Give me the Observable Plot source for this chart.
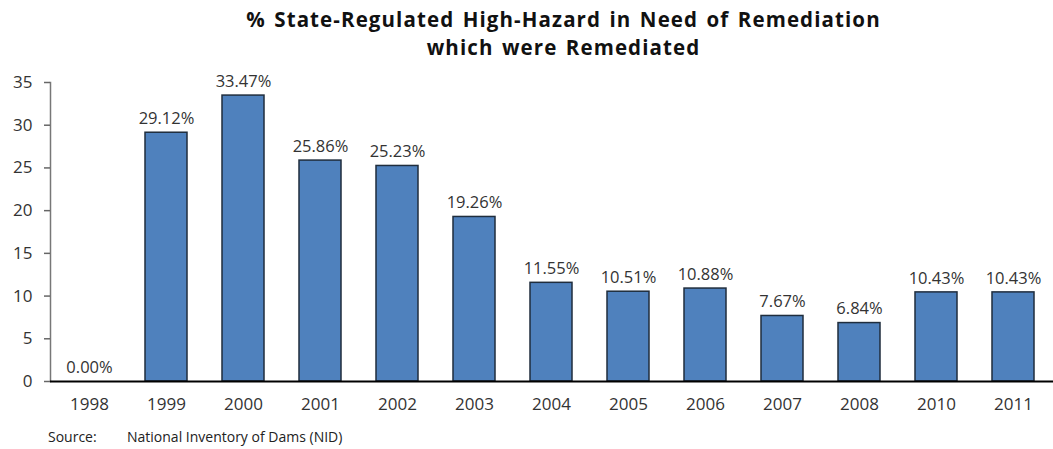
<!DOCTYPE html>
<html>
<head>
<meta charset="utf-8">
<script src="https://cdn.jsdelivr.net/npm/d3@7"></script>
<script src="https://cdn.jsdelivr.net/npm/@observablehq/plot@0.6"></script>
<style>
  html, body { margin: 0; padding: 0; background: #fff; }
  body { width: 1053px; height: 449px; overflow: hidden; font-family: "Open Sans", sans-serif; }
  #title { height: 62px; box-sizing: border-box; padding-top: 5px; padding-left: 74px; text-align: center;
           font-weight: bold; font-size: 20.5px; line-height: 28px; color: #111; letter-spacing: 1.1px; word-spacing: 2px; }
  #source { font-size: 14px; color: #222; padding-left: 48px; margin-top: 0px; }
  #source span { display: inline-block; width: 79px; }
</style>
</head>
<body>
<div id="title">% State-Regulated High-Hazard in Need of Remediation<br>which were Remediated</div>
<div id="chart"></div>
<div id="source"><span>Source:</span>National Inventory of Dams (NID)</div>
<script>
const years = ["1998","1999","2000","2001","2002","2003","2004","2005","2006","2007","2008","2010","2011"];
const values = [0.00, 29.12, 33.47, 25.86, 25.23, 19.26, 11.55, 10.51, 10.88, 7.67, 6.84, 10.43, 10.43];
const yTicks = [0, 5, 10, 15, 20, 25, 30, 35];

const data = years.map((y, i) => ({year: y, value: values[i], label: values[i].toFixed(2) + "%"}));

const chart = Plot.plot({
  width: 1053,
  height: 365,
  marginTop: 20,
  marginLeft: 50,
  marginRight: 0,
  marginBottom: 46,
  style: {fontFamily: "Open Sans, sans-serif", color: "#333", background: "#fff"},
  x: {domain: years, paddingInner: 0.45, paddingOuter: 0.225, label: null},
  y: {domain: [0, 35], label: null},
  marks: [
    Plot.frame({anchor: "left", stroke: "#777", strokeWidth: 1.5}),
    Plot.axisY({ticks: yTicks, tickSize: 6, tickPadding: 12, stroke: "#666", strokeWidth: 1.5, strokeOpacity: 1, fontSize: 17, fill: "#333", label: null}),
    Plot.axisX({tickSize: 0, tickPadding: 16, fontSize: 17, fill: "#333", label: null}),
    Plot.barY(data, {x: "year", y: "value", fill: "#4F81BD", stroke: "#1f2d3d", strokeWidth: 1.5}),
    Plot.text(data, {x: "year", y: "value", text: "label", dy: -14, fontSize: 16.5, fill: "#333"}),
    Plot.ruleY([0], {stroke: "#000", strokeWidth: 2})
  ]
});
document.getElementById("chart").appendChild(chart);
</script>
</body>
</html>
